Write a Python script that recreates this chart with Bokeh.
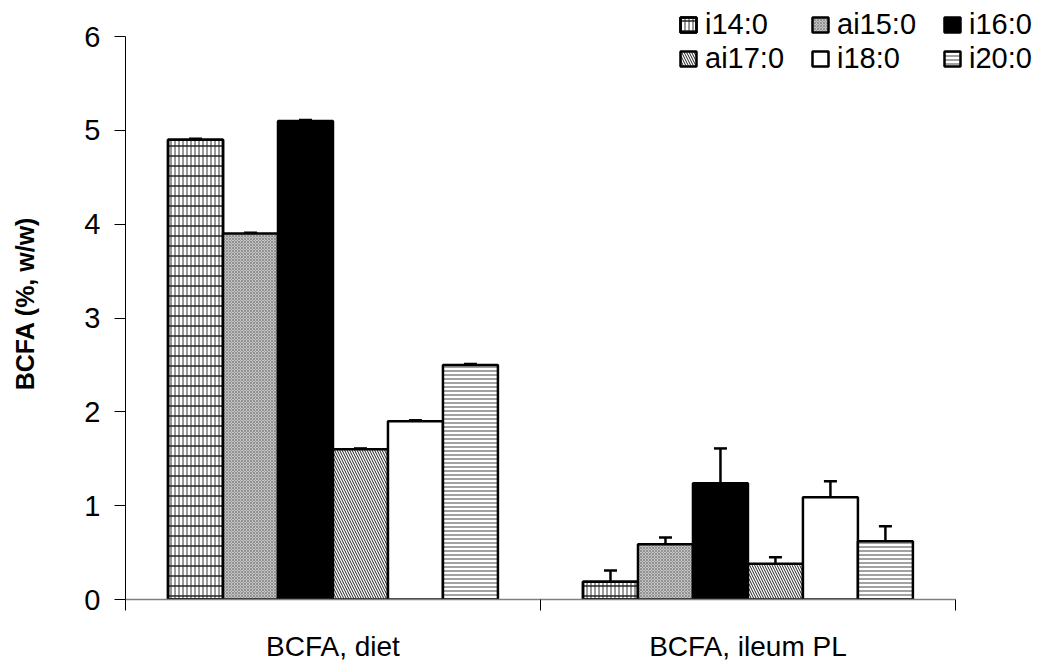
from bokeh.plotting import figure
from bokeh.models import (Range1d, FixedTicker, Legend, LegendItem, Whisker,
                          ColumnDataSource, TeeHead)
from bokeh.embed import file_html
from bokeh.resources import INLINE

groups = ["BCFA, diet", "BCFA, ileum PL"]
acids = ["i14:0", "ai15:0", "i16:0", "ai17:0", "i18:0", "i20:0"]
diet = [4.9, 3.9, 5.1, 1.6, 1.9, 2.5]
diet_err = [0.01, 0.01, 0.01, 0.01, 0.01, 0.01]
ileum = [0.19, 0.59, 1.24, 0.38, 1.09, 0.62]
ileum_err = [0.12, 0.07, 0.37, 0.07, 0.17, 0.16]
y_ticks = [0, 1, 2, 3, 4, 5, 6]

FONT = "Liberation Sans Narrow, Arial Narrow, Liberation Sans"

p = figure(width=1040, height=665, output_backend="svg", toolbar_location=None,
           x_range=Range1d(0, 2.205), y_range=Range1d(0, 6.384),
           min_border_left=125, min_border_right=0, min_border_top=0,
           min_border_bottom=66)
p.outline_line_color = None
p.grid.grid_line_color = None
p.background_fill_color = "white"

bar_w = 0.1325
styles = [
    dict(fill_color="white", hatch_pattern="|", hatch_scale=4, hatch_weight=1, hatch_color="#333333"),
    dict(fill_color="#c4c4c4", hatch_pattern="x", hatch_scale=3, hatch_weight=0.6, hatch_color="#707070"),
    dict(fill_color="black"),
    dict(fill_color="white", hatch_pattern="\\", hatch_scale=5, hatch_weight=1.0, hatch_color="#222222"),
    dict(fill_color="white"),
    dict(fill_color="white", hatch_pattern="-", hatch_scale=4, hatch_weight=1, hatch_color="#444444"),
]

items = {}
for i, name in enumerate(acids):
    xs = [g + 0.5 + (i - 2.5) * bar_w for g in range(len(groups))]
    tops = [diet[i], ileum[i]]
    errs = [diet_err[i], ileum_err[i]]
    src = ColumnDataSource(dict(x=xs, top=tops, upper=[t + e for t, e in zip(tops, errs)]))
    w = Whisker(base="x", lower="top", upper="upper", source=src, dimension="height",
                line_color="black", line_width=2.5,
                upper_head=TeeHead(size=13, line_width=2.5, line_color="black"),
                lower_head=None, level="underlay")
    p.add_layout(w)
    rs = [p.vbar(x="x", top="top", width=bar_w, source=src, line_color="black",
                 line_width=2.5, **styles[i])]
    if i == 0:
        rs.append(p.vbar(x="x", top="top", width=bar_w, source=src, fill_color=None,
                         line_color="black", line_width=2.5, hatch_pattern="-",
                         hatch_scale=10, hatch_weight=1.5, hatch_color="#222222"))
    items[name] = LegendItem(label=name, renderers=rs)

# legend fills column by column: order so rows read i14 ai15 i16 / ai17 i18 i20
order = [0, 3, 1, 4, 2, 5]
legend = Legend(items=[items[acids[k]] for k in order], ncols=3, location=(553, 524),
                label_text_font=FONT, label_text_font_size="29px",
                label_text_color="black",
                glyph_width=20, glyph_height=19, label_standoff=7,
                label_width=105, label_height=34,
                spacing=0, padding=0, margin=0, border_line_color=None,
                background_fill_alpha=0)
p.add_layout(legend, "center")

# y axis
ya = p.yaxis[0]
ya.ticker = FixedTicker(ticks=y_ticks)
ya.bounds = (0, 6)
ya.axis_line_color = "black"
ya.axis_line_width = 1
ya.major_tick_line_color = "black"
ya.major_tick_out = 11
ya.major_tick_in = 0
ya.minor_tick_line_color = None
ya.major_label_text_font = FONT
ya.major_label_text_font_size = "29px"
ya.major_label_text_color = "black"
ya.major_label_standoff = 14
ya.axis_label = "BCFA  (%, w/w)"
ya.axis_label_text_font = "Liberation Sans"
ya.axis_label_text_font_style = "bold"
ya.axis_label_text_font_size = "25px"
ya.axis_label_text_color = "black"
ya.axis_label_standoff = 42

# x axis
xa = p.xaxis[0]
xa.bounds = (0, 2)
xa.ticker = FixedTicker(ticks=[g + 0.5 for g in range(len(groups))],
                        minor_ticks=list(range(len(groups) + 1)))
xa.major_label_overrides = {g + 0.5: name for g, name in enumerate(groups)}
xa.axis_line_color = "#808080"
xa.axis_line_width = 1.5
xa.major_tick_line_color = None
xa.major_tick_out = 0
xa.major_tick_in = 0
xa.minor_tick_line_color = "black"
xa.minor_tick_out = 11
xa.minor_tick_in = 0
xa.major_label_text_font = FONT
xa.major_label_text_font_size = "28px"
xa.major_label_text_color = "black"
xa.major_label_standoff = 20

open("out.html", "w").write(file_html(p, INLINE))
